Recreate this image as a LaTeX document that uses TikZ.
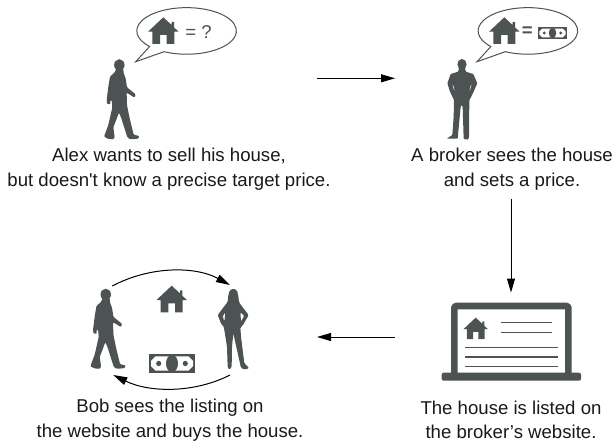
\documentclass[tikz,border=0pt]{standalone}
\usepackage{fontspec}
\setmainfont{Liberation Sans}[Ligatures=TeXOff]
\usetikzlibrary{arrows.meta}
\definecolor{sil}{HTML}{4D5253}
\tikzset{
  x=1pt,y=-1pt,
  caption/.style={align=center,font=\fontsize{18.6}{24.4}\selectfont,inner sep=0pt,text=black!90},
  flow/.style={line width=1pt,black,-{Triangle[length=14pt,width=8pt]}},
  sline/.style={draw=sil,line width=1.5pt},
  pics/bubble/.style={code={
    \draw[draw=sil,line width=1pt,line join=miter] (-21.7,20) arc[start angle=243,end angle=582,x radius=49.8pt,y radius=23.3pt] -- (-50,30) -- cycle;
  }},
  pics/houseicon/.style={code={
    \fill[sil] (0,-12.7) -- (8.3,-5) -- (8.3,-8) -- (10.7,-8) -- (10.7,-2.6) -- (15.3,1.7) -- (11,1.7) -- (11,14) -- (3.3,14) -- (3.3,5) -- (-3.3,5) -- (-3.3,14) -- (-11,14) -- (-11,1.7) -- (-15.3,1.7) -- cycle;
  }},
  pics/money/.style={code={
    \fill[sil] (-23,-9.2) rectangle (23,9.2);
    \fill[white] (-16.5,-7.2) -- (16.5,-7.2) -- (21,-2.7) -- (21,2.7) -- (16.5,7.2) -- (-16.5,7.2) -- (-21,2.7) -- (-21,-2.7) -- cycle;
    \fill[sil] (0,0) ellipse[x radius=6pt,y radius=8.6pt];
    \fill[sil] (-13.3,0) circle[radius=2.6pt] (13.3,0) circle[radius=2.6pt];
  }},
  pics/walker/.style={code={
    \begin{scope}[x=.3333pt,y=-.3333pt]
    \fill[sil] (73,45) ellipse[x radius=5.2pt,y radius=5.8pt];
    \fill[sil,rounded corners=1pt] (63,56) -- (85,56) -- (86,70) -- (92,85) -- (96,112) -- (122,133) -- (119,143) -- (95,128) -- (96,165) -- (104,205) -- (116,254) -- (133,258) -- (130,266) -- (106,268) -- (97,262) -- (79,205) -- (72,188) -- (55,232) -- (59,262) -- (55,268) -- (40,267) -- (27,260) -- (40,225) -- (52,172) -- (50,150) -- (46,150) -- (46,163) -- (36,162) -- (35,150) -- (40,110) -- (45,80) -- (60,66) -- cycle;
    \end{scope}
  }},
  pics/standman/.style={code={
    \begin{scope}[x=.3333pt,y=-.3333pt]
    \fill[sil] (96,43) ellipse[x radius=4.6pt,y radius=5.4pt];
    \fill[sil,even odd rule,rounded corners=.8pt] (87,52) -- (105,52) -- (107,65) -- (130,72) -- (142,100) -- (125,138) -- (118,150) -- (117,262) -- (114,269) -- (101,267) -- (98,170) -- (95,165) -- (92,170) -- (83,266) -- (50,266) -- (67,255) -- (71,200) -- (72,150) -- (60,125) -- (52,100) -- (62,72) -- (85,65) -- cycle
    (66,100) -- (74,128) -- (72,110) -- cycle (126,100) -- (118,128) -- (120,110) -- cycle;
    \end{scope}
  }},
  pics/standwoman/.style={code={
    \begin{scope}[x=.3333pt,y=-.3333pt]
    \fill[sil,even odd rule,rounded corners=1.2pt] (85,26) -- (96,31) -- (100,48) -- (102,66) -- (110,78) -- (131,105) -- (113,137) -- (106,142) -- (108,170) -- (118,250) -- (133,264) -- (120,269) -- (108,264) -- (96,210) -- (85,160) -- (81,200) -- (80,262) -- (72,269) -- (68,262) -- (66,200) -- (58,150) -- (56,138) -- (50,135) -- (38,105) -- (60,76) -- (68,66) -- (70,45) -- (74,31) -- cycle
    (61,97) -- (53,108) -- (58,125) -- cycle (106,97) -- (118,107) -- (108,125) -- cycle;
    \end{scope}
  }},
}
\begin{document}
\begin{tikzpicture}
\useasboundingbox (0,0) rectangle (613,441);
% top left
\pic at (185.7,31.7) {bubble};
\pic at (163.3,30) {houseicon};
\node[font=\fontsize{18.6}{20}\selectfont,text=sil,inner sep=0pt] (q) at (198.5,32) {= ?};
\pic at (95,50) {walker};
\node[caption] (alex) at (169,169) {Alex wants to sell his house,\\but doesn't know a precise target price.};
% top right
\pic at (527,31.7) {bubble};
\pic at (504.3,30) {houseicon};
\node[font=\bfseries\fontsize{18.6}{20}\selectfont,text=sil,inner sep=0pt] (eq) at (527.3,32) {=};
\pic[scale=.62] at (552.5,33) {money};
\pic at (430,50) {standman};
\node[caption] (broker) at (512,169) {A broker sees the house\\and sets a price.};
% laptop
\draw[sil,line width=6.6pt,rounded corners=1.5pt,line join=round] (454.3,373) -- (454.3,306) -- (568.4,306) -- (568.4,373);
\fill[sil,rounded corners=2pt] (441.7,372.7) -- (581,372.7) -- (581,380.7) -- (441.7,380.7) -- cycle;
\pic[scale=.8] at (475.7,327.8) {houseicon};
\draw[sline] (501,322.7) -- (552.3,322.7);
\draw[sline] (501,332.3) -- (552.3,332.3);
\draw[sline] (465,347.7) -- (557.7,347.7);
\draw[sline] (465,357) -- (557.7,357);
\draw[sline] (465,366.7) -- (557.7,366.7);
\node[caption] (listed) at (511,420) {The house is listed on\\the broker’s website.};
% bottom left
\pic at (81.4,279.5) {walker};
\pic at (205,280) {standwoman};
\pic at (171.7,298.4) {houseicon};
\pic at (172,363.5) {money};
\node[caption] (bob) at (170,420) {Bob sees the listing on\\the website and buys the house.};
% connectors
\coordinate (a1) at (316.7,78.3); \coordinate (a2) at (395,78.3);
\coordinate (b1) at (511,199); \coordinate (b2) at (511,292.5);
\coordinate (c1) at (395,337); \coordinate (c2) at (317,337);
\coordinate (d1) at (112.3,286); \coordinate (d2) at (230,285);
\coordinate (e1) at (230,375); \coordinate (e2) at (113.3,375);
\draw[flow] (a1) -- (a2);
\draw[flow] (b1) -- (b2);
\draw[flow] (c1) -- (c2);
\draw[flow] (d1) .. controls (150,266) and (195,266) .. (d2);
\draw[flow] (e1) .. controls (195,393) and (150,393) .. (e2);
\end{tikzpicture}
\end{document}
